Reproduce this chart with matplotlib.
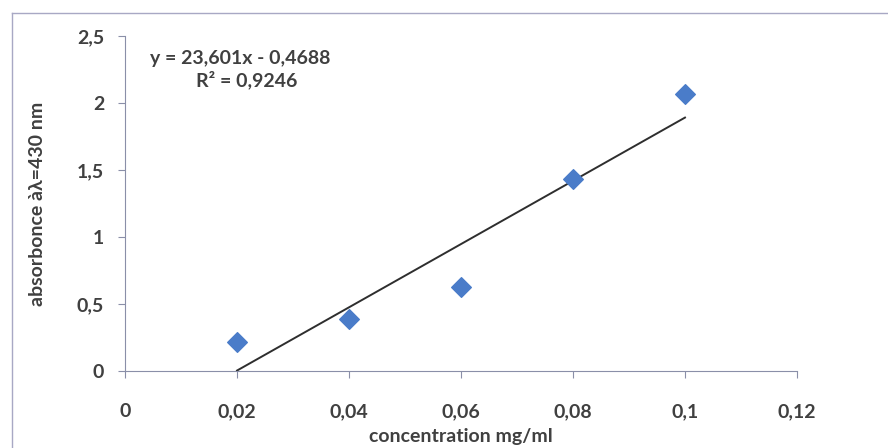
import numpy as np
import matplotlib.pyplot as plt
from matplotlib.lines import Line2D

# concentration (mg/ml) vs absorbance at 430 nm
conc = [0.02, 0.04, 0.06, 0.08, 0.1]
absorb = [0.22, 0.39, 0.63, 1.43, 2.07]
slope, intercept = 23.601, -0.4688
xticks = [0, 0.02, 0.04, 0.06, 0.08, 0.1, 0.12]
xticklabels = ["0", "0,02", "0,04", "0,06", "0,08", "0,1", "0,12"]
yticks = [0, 0.5, 1, 1.5, 2, 2.5]
yticklabels = ["0", "0,5", "1", "1,5", "2", "2,5"]

plt.rcParams["font.family"] = ["Lato", "DejaVu Sans"]
plt.rcParams["font.weight"] = "bold"
plt.rcParams["axes.labelweight"] = "bold"
axcol = "#8a8fa8"
txtcol = "#404040"

fig = plt.figure(figsize=(8.88, 4.48), dpi=100)
ax = fig.add_axes([0.1408, 0.1719, 0.7567, 0.7477])

ax.scatter(conc, absorb, marker="D", s=100, color="#4a7cc9", zorder=3)
xl = np.array([conc[0], conc[-1]])
ax.plot(xl, slope * xl + intercept, color="#2e2e2e", lw=1.4, zorder=2)

ax.set_xlim(0, 0.12)
ax.set_ylim(0, 2.5)
ax.set_xticks(xticks)
ax.set_xticklabels(xticklabels)
ax.set_yticks(yticks)
ax.set_yticklabels(yticklabels)
for s in ("top", "right"):
    ax.spines[s].set_visible(False)
for s in ("left", "bottom"):
    ax.spines[s].set_color(axcol)
ax.tick_params(axis="both", colors=axcol, labelcolor=txtcol, labelsize=14,
               length=5)
ax.tick_params(axis="x", pad=18)
ax.tick_params(axis="y", pad=10)

ax.set_xlabel("concentration mg/ml", fontsize=14, color=txtcol, labelpad=6)
ax.set_ylabel("absorbonce àλ=430 nm", fontsize=14, color=txtcol, labelpad=22)

ax.text(0.0045, 2.335, "y = 23,601x - 0,4688", fontsize=14, color=txtcol,
        va="center", ha="left")
ax.text(0.0127, 2.17, "R² = 0,9246", fontsize=14, color=txtcol,
        va="center", ha="left")

# chart frame: only top and left edges are visible in the crop
fig.add_artist(Line2D([12 / 888, 1], [1 - 13 / 448] * 2, transform=fig.transFigure,
                      color="#a8a8c4", lw=1.0))
fig.add_artist(Line2D([12 / 888] * 2, [0, 1 - 13 / 448], transform=fig.transFigure,
                      color="#a8a8c4", lw=1.0))

fig.savefig("out.png", dpi=100)
